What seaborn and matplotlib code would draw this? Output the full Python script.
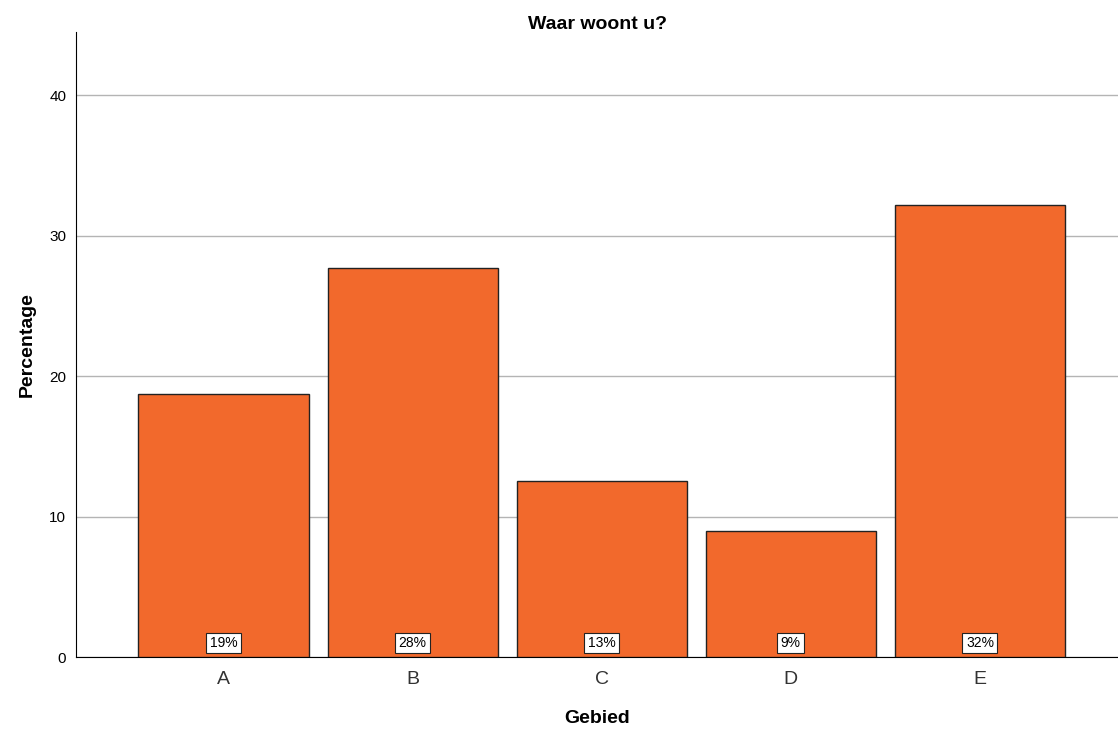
import pandas as pd
import matplotlib.pyplot as plt
import seaborn as sns

gebied = ['A', 'B', 'C', 'D', 'E']
percentage = [18.72, 27.69, 12.53, 8.97, 32.17]
labels = ['19%', '28%', '13%', '9%', '32%']

df = pd.DataFrame({'Gebied': gebied, 'Percentage': percentage})

sns.set_style('white')
plt.rcParams['font.family'] = ['Liberation Sans', 'DejaVu Sans']
plt.rcParams['text.color'] = 'black'
plt.rcParams['axes.labelcolor'] = 'black'
plt.rcParams['ytick.color'] = 'black'

fig = plt.figure(figsize=(11.18, 7.31), dpi=100)
ax = fig.add_axes([0.068, 0.1012, 0.932, 0.855])

sns.barplot(data=df, x='Gebied', y='Percentage', color='#F2692C', saturation=1,
            width=0.9, edgecolor='#222222', linewidth=1.0, ax=ax, zorder=3)

# percentage boxes at the bottom of each bar
for i, lab in enumerate(labels):
    ax.text(i, 1.0, lab, ha='center', va='center', fontsize=10, color='black', zorder=5,
            bbox=dict(boxstyle='square,pad=0.25', facecolor='white', edgecolor='#222222', linewidth=0.8))

ax.set_ylim(0, 44.5)
ax.set_xlim(-0.78, 4.73)
ax.set_yticks([0, 10, 20, 30, 40])
ax.yaxis.grid(True, color='#B4B4B4', linewidth=1.0, zorder=0)
ax.set_axisbelow(True)
ax.spines['top'].set_visible(False)
ax.spines['right'].set_visible(False)
ax.spines['left'].set_color('black')
ax.spines['bottom'].set_color('black')
ax.tick_params(axis='y', length=0, labelsize=11, pad=7, labelcolor='black')
ax.tick_params(axis='x', length=0, labelsize=14, pad=10, labelcolor='#333333')

ax.set_title('Waar woont u?', fontsize=14, fontweight='bold', pad=2, color='black')
ax.set_xlabel('Gebied', fontsize=14, fontweight='bold', labelpad=16)
ax.set_ylabel('Percentage', fontsize=14, fontweight='bold', labelpad=10)

fig.savefig('out.png', dpi=100)
